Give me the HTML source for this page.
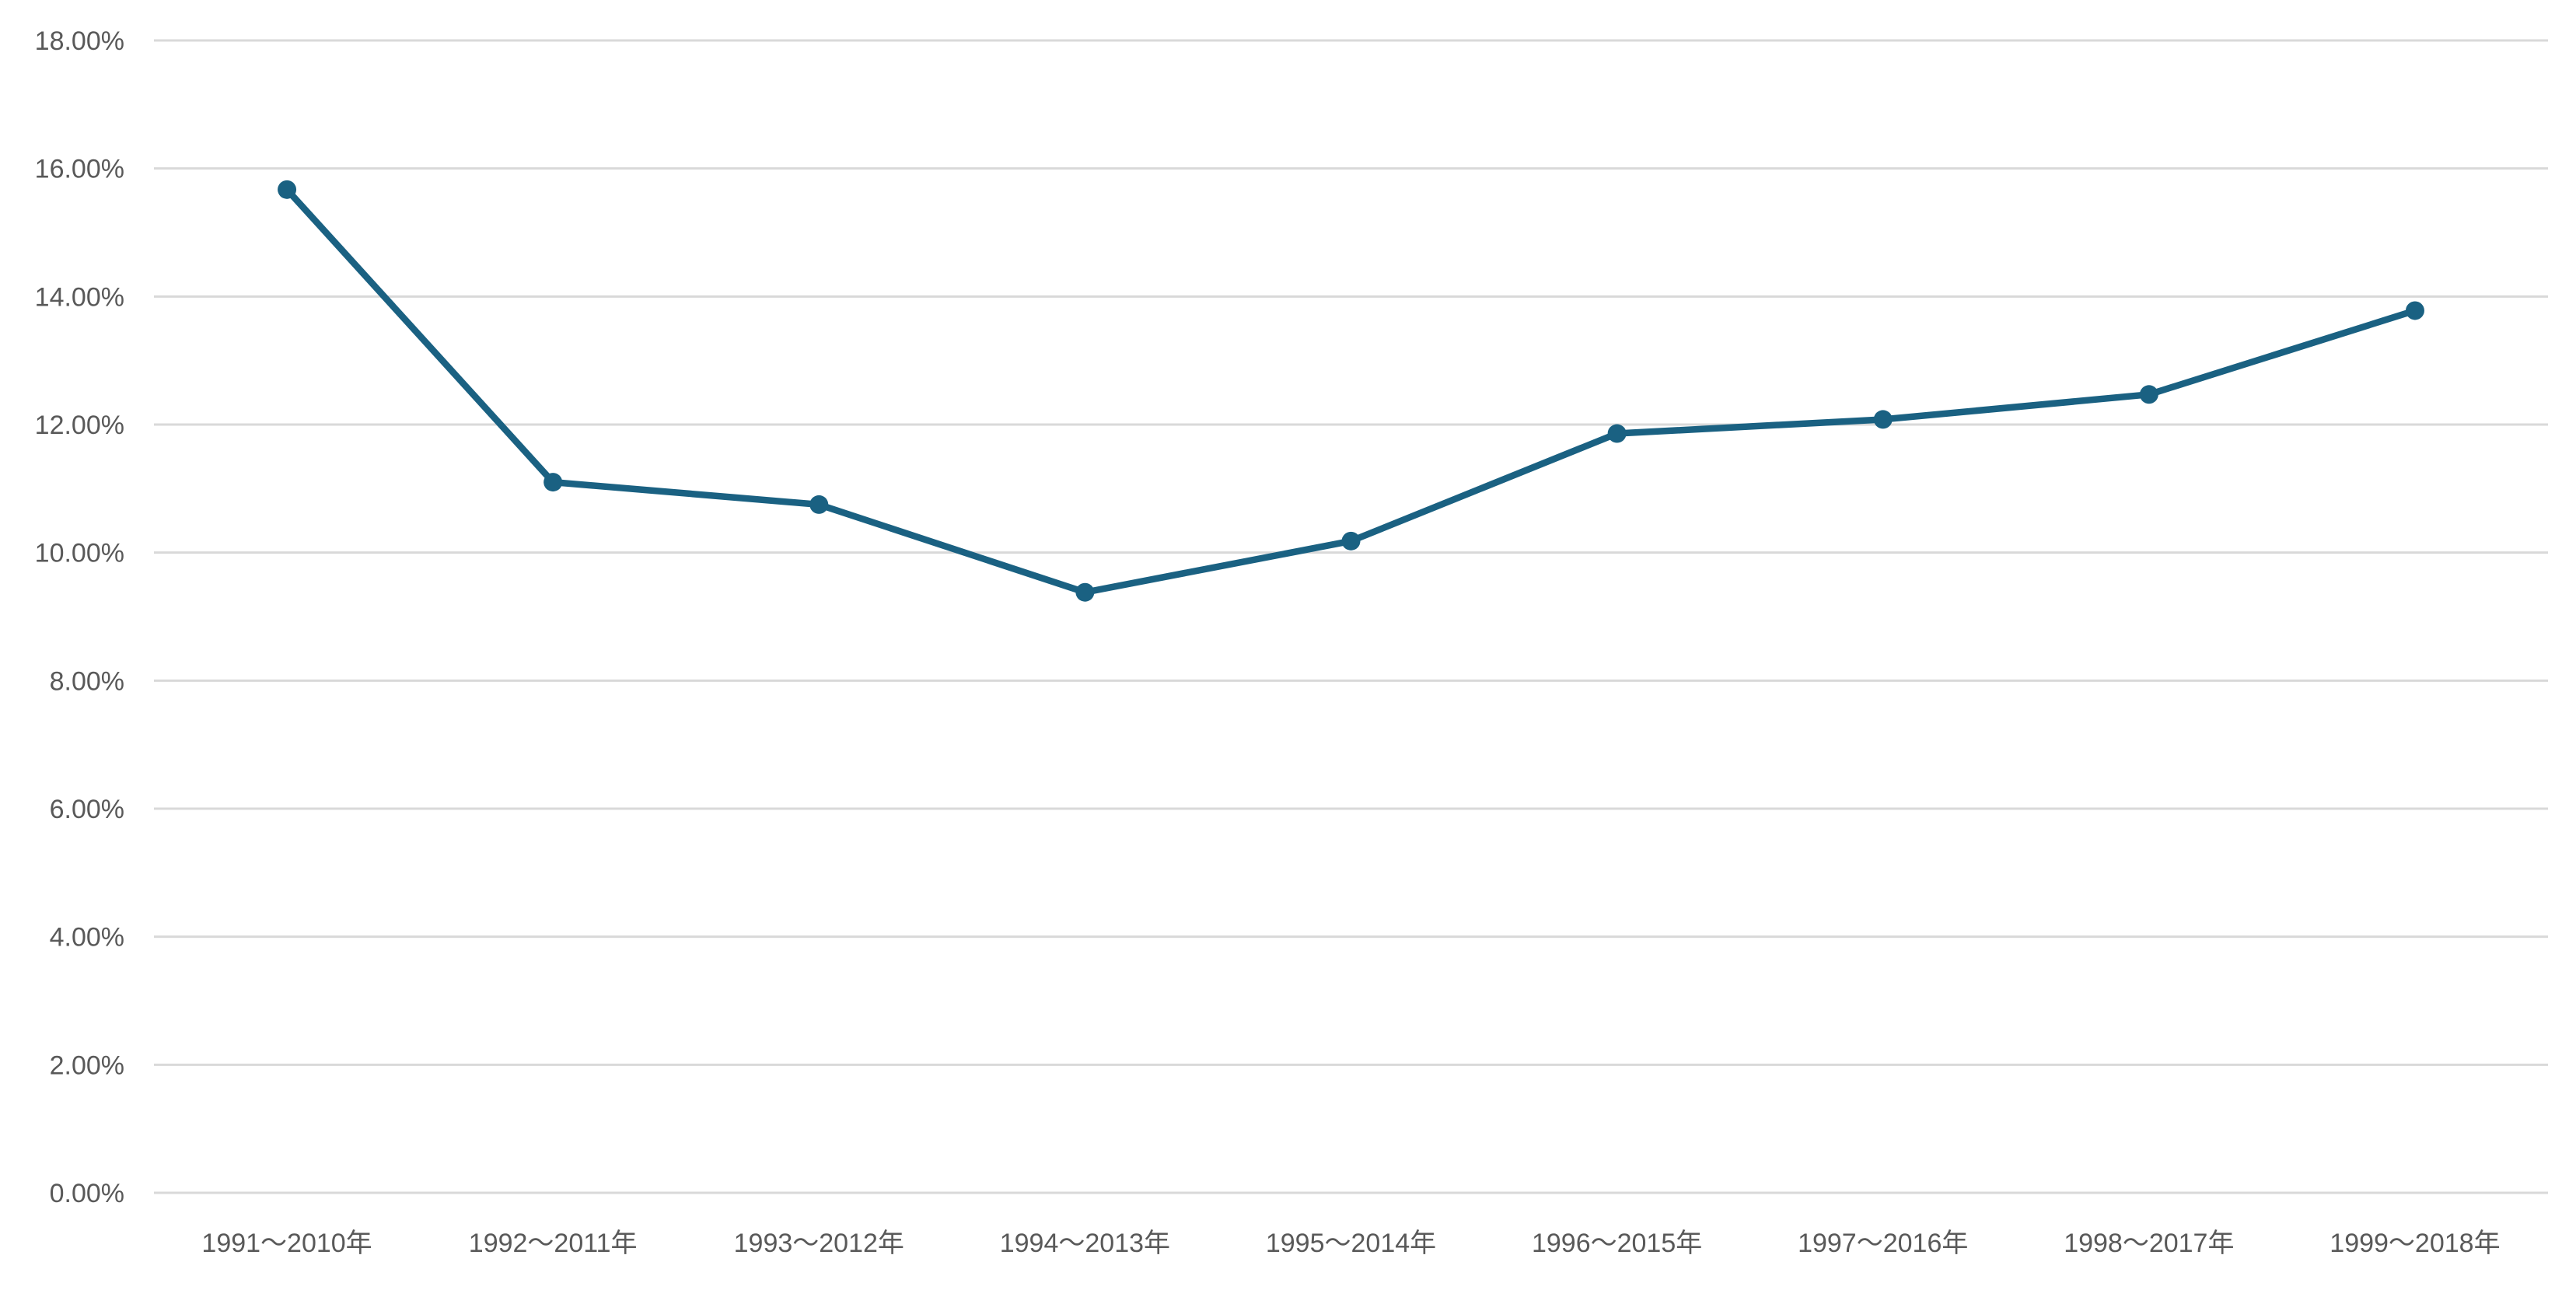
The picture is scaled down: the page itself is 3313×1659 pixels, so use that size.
<!DOCTYPE html>
<html><head><meta charset="utf-8"><style>
html,body{margin:0;padding:0;background:#fff;}
svg{display:block;font-family:"Liberation Sans","Noto Sans CJK JP",sans-serif;}
</style></head><body>
<svg id="chart" width="3313" height="1659" viewBox="0 0 3313 1659" xmlns="http://www.w3.org/2000/svg">
<g id="grid"></g>
<g id="ylab"></g>
<g id="xlab"></g>
<g id="series"></g>
</svg>
<script>
const categories = ["1991～2010年","1992～2011年","1993～2012年","1994～2013年","1995～2014年","1996～2015年","1997～2016年","1998～2017年","1999～2018年"];
const values = [15.67,11.10,10.75,9.38,10.18,11.86,12.08,12.47,13.78];
const yTicks = [0,2,4,6,8,10,12,14,16,18];
const yTickLabels = ["0.00%","2.00%","4.00%","6.00%","8.00%","10.00%","12.00%","14.00%","16.00%","18.00%"];

const NS="http://www.w3.org/2000/svg";
const plotLeft=198,plotRight=3277,plotTop=52,plotBottom=1534,yMax=18;
const band=(plotRight-plotLeft)/categories.length;
function xPos(i){return plotLeft+band*(i+0.5);}
function yPos(v){return plotBottom-(v/yMax)*(plotBottom-plotTop);}
function mk(tag,attrs,parent){const e=document.createElementNS(NS,tag);for(const k in attrs)e.setAttribute(k,attrs[k]);parent.appendChild(e);return e;}

const grid=document.getElementById('grid'),ylab=document.getElementById('ylab'),xlab=document.getElementById('xlab'),series=document.getElementById('series');
yTicks.forEach((t,i)=>{
  const l=mk('line',{x1:plotLeft,x2:plotRight,y1:yPos(t),y2:yPos(t),stroke:'#d9d9d9','stroke-width':3},grid);
  
  
  const tx=mk('text',{x:160,y:yPos(t)+12,'text-anchor':'end','font-size':34,fill:'#595959'},ylab);
  tx.textContent=yTickLabels[i];
  
  
});
categories.forEach((c,i)=>{
  const tx=mk('text',{x:xPos(i),y:1610,'text-anchor':'middle','font-size':34,fill:'#595959'},xlab);
  tx.textContent=c;
  
  
});
const pts=values.map((v,i)=>xPos(i)+','+yPos(v)).join(' ');
const pl=mk('polyline',{points:pts,fill:'none',stroke:'#1a6182','stroke-width':8.5,'stroke-linejoin':'round'},series);


values.forEach((v,i)=>{
  const c=mk('circle',{cx:xPos(i),cy:yPos(v),r:12,fill:'#1a6182'},series);
  
  
});
</script>
</body></html>
